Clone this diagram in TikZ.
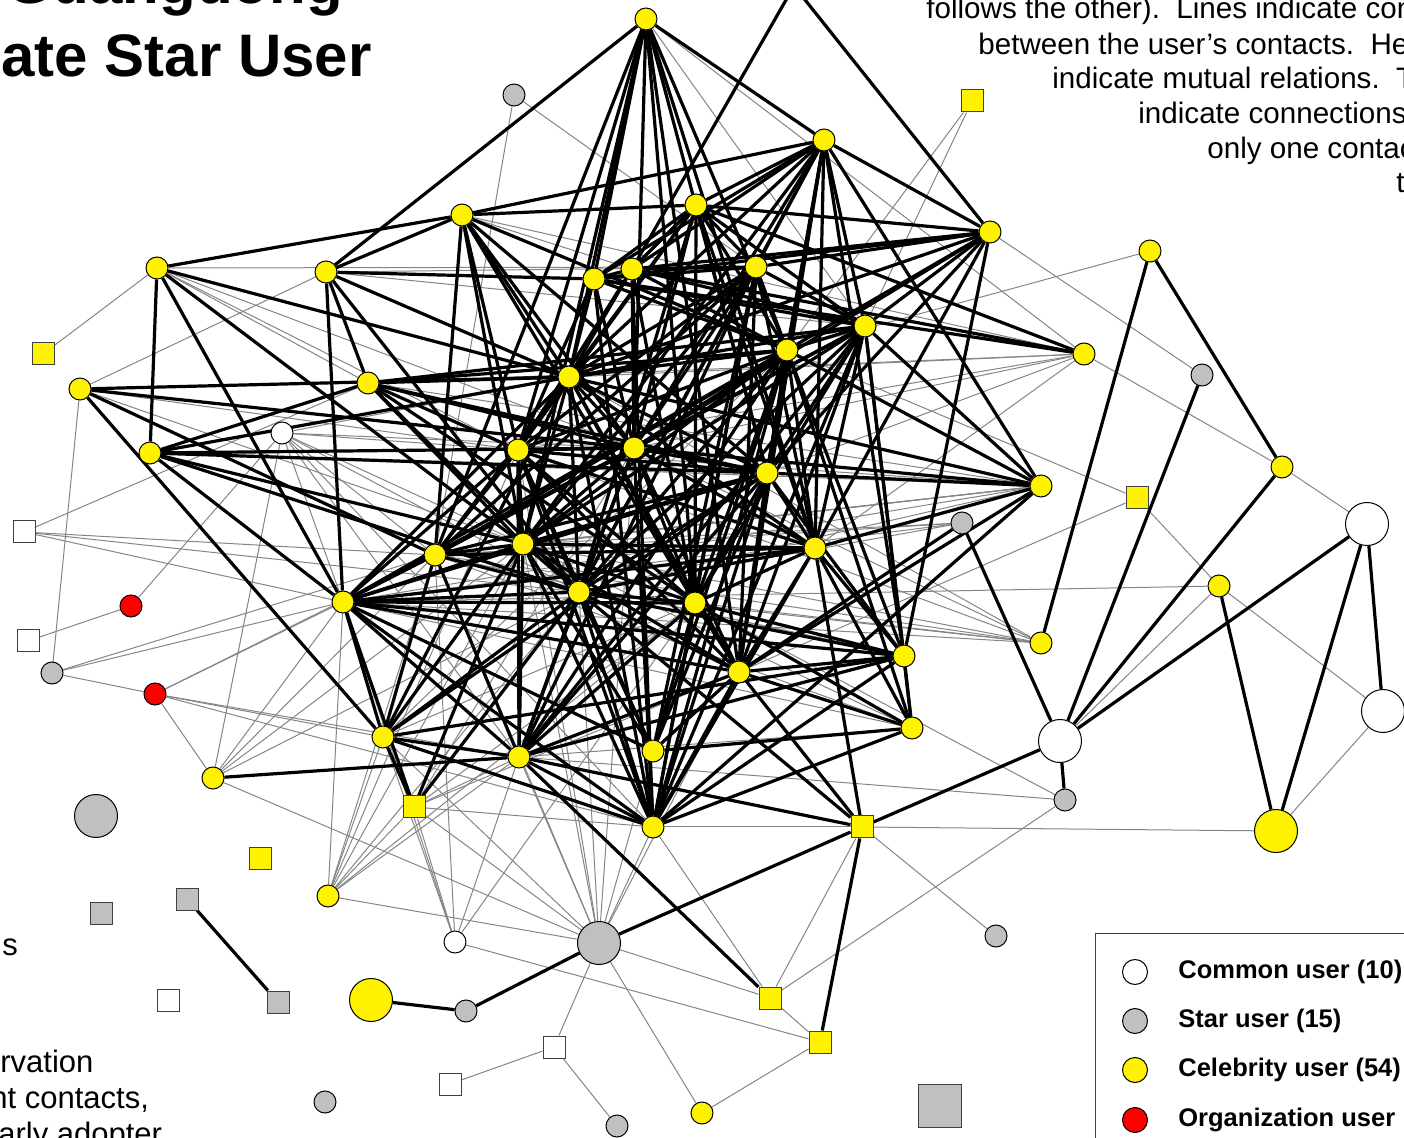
\documentclass[tikz,border=0pt]{standalone}
\usepackage{fontspec}
\setmainfont{Liberation Sans}
\usepackage{xcolor}
\usetikzlibrary{positioning}
\pgfdeclarelayer{edges}
\pgfsetlayers{edges,main}
\definecolor{stargray}{HTML}{C0C0C0}
\definecolor{linegray}{HTML}{858585}
\definecolor{rimgray}{HTML}{404040}

\begin{document}
\begin{tikzpicture}[x=0.5pt, y=-0.5pt,
  usernode/.style={circle, draw=black, line width=0.5pt, inner sep=0pt, minimum size=11pt},
  sqnode/.style={rectangle, draw=rimgray, line width=0.5pt, inner sep=0pt, minimum size=11pt},
  celebnode/.style={usernode, fill=yellow},
  starnode/.style={usernode, fill=stargray},
  commonnode/.style={usernode, fill=white},
  orgnode/.style={usernode, fill=red},
  celebsq/.style={sqnode, fill=yellow},
  starsq/.style={sqnode, fill=stargray},
  commonsq/.style={sqnode, fill=white},
  bignode/.style={minimum size=21.5pt},
  mutual/.style={line width=1.6pt, black},
  oneway/.style={line width=0.5pt, linegray},
  note/.style={font=\fontsize{14.8}{17}\selectfont, inner sep=0pt, anchor=base west},
  sidenote/.style={font=\fontsize{15.5}{18}\selectfont, inner sep=0pt, anchor=base west},
  keytext/.style={font=\bfseries\fontsize{12.75}{15}\selectfont, inner sep=0pt, anchor=west}]
  \useasboundingbox (0,0) rectangle (1404,1138);
  \clip (0,0) rectangle (1404,1138);

  % celebrity users
  \node[celebnode] (ctop) at (794,-14) {};
  \node[celebnode] (c1) at (646,19) {};
  \node[celebnode] (c2) at (824,140) {};
  \node[celebnode] (c3) at (462,215) {};
  \node[celebnode] (c4) at (696,205) {};
  \node[celebnode] (c5) at (990,232) {};
  \node[celebnode] (c6) at (157,268) {};
  \node[celebnode] (c7) at (326,272) {};
  \node[celebnode] (c8) at (594,279) {};
  \node[celebnode] (c9) at (632,269) {};
  \node[celebnode] (c10) at (756,267) {};
  \node[celebnode] (c11) at (865,326) {};
  \node[celebnode] (c12) at (787,350) {};
  \node[celebnode] (c13) at (1084,354) {};
  \node[celebnode] (c14) at (80,389) {};
  \node[celebnode] (c15) at (368,383) {};
  \node[celebnode] (c16) at (569,377) {};
  \node[celebnode] (c17) at (150,453) {};
  \node[celebnode] (c18) at (518,450) {};
  \node[celebnode] (c19) at (634,448) {};
  \node[celebnode] (c20) at (767,473) {};
  \node[celebnode] (c21) at (1041,486) {};
  \node[celebnode] (c22) at (435,555) {};
  \node[celebnode] (c23) at (523,544) {};
  \node[celebnode] (c24) at (815,548) {};
  \node[celebnode] (c25) at (343,602) {};
  \node[celebnode] (c26) at (579,592) {};
  \node[celebnode] (c27) at (695,603) {};
  \node[celebnode] (c28) at (739,672) {};
  \node[celebnode] (c29) at (904,656) {};
  \node[celebnode] (c30) at (1041,643) {};
  \node[celebnode] (c31) at (912,728) {};
  \node[celebnode] (c32) at (383,737) {};
  \node[celebnode] (c33) at (519,757) {};
  \node[celebnode] (c34) at (653,751) {};
  \node[celebnode] (c35) at (213,778) {};
  \node[celebnode] (c36) at (653,827) {};
  \node[celebnode] (c37) at (328,896) {};
  \node[celebnode] (c38) at (702,1113) {};
  \node[celebnode] (c39) at (1150,251) {};
  \node[celebnode] (c40) at (1282,467) {};
  \node[celebnode] (c41) at (1219,586) {};
  \node[celebnode, bignode] (C1) at (1276,831) {};
  \node[celebnode, bignode] (C2) at (371,1000) {};
  \node[celebsq] (q1) at (43,354) {};
  \node[celebsq] (q2) at (972,101) {};
  \node[celebsq] (q3) at (1137,498) {};
  \node[celebsq] (q4) at (414,807) {};
  \node[celebsq] (q5) at (260,859) {};
  \node[celebsq] (q6) at (862,827) {};
  \node[celebsq] (q7) at (770,998) {};
  \node[celebsq] (q8) at (820,1042) {};

  % star users
  \node[starnode] (s1) at (514,95) {};
  \node[starnode] (s2) at (1202,375) {};
  \node[starnode] (s3) at (962,523) {};
  \node[starnode] (s4) at (52,673) {};
  \node[starnode] (s5) at (1065,800) {};
  \node[starnode] (s6) at (996,936) {};
  \node[starnode] (s7) at (466,1011) {};
  \node[starnode] (s8) at (325,1102) {};
  \node[starnode] (s9) at (617,1126) {};
  \node[starnode, bignode] (S1) at (96,816) {};
  \node[starnode, bignode] (S2) at (599,943) {};
  \node[starsq] (g1) at (101,913) {};
  \node[starsq] (g2) at (187,899) {};
  \node[starsq] (g3) at (278,1002) {};
  \node[starsq, bignode] (G1) at (940,1106) {};

  % common and organization users
  \node[commonnode] (w1) at (282,433) {};
  \node[commonnode] (w2) at (455,942) {};
  \node[commonnode, bignode] (W1) at (1367,524) {};
  \node[commonnode, bignode] (W2) at (1383,711) {};
  \node[commonnode, bignode] (W3) at (1060,741) {};
  \node[commonsq] (u1) at (24,532) {};
  \node[commonsq] (u2) at (28,641) {};
  \node[commonsq] (u3) at (168,1000) {};
  \node[commonsq] (u4) at (554,1047) {};
  \node[commonsq] (u5) at (450,1084) {};
  \node[orgnode] (r1) at (131,606) {};
  \node[orgnode] (r2) at (155,694) {};

  \begin{pgfonlayer}{edges}
    \clip (0,0) rectangle (1404,1138);
    % one-way relations
    \foreach \a/\b in {q1/c6, c6/c15, c6/c18, c6/c19, c6/c10, c14/s4, c14/c7, c14/c18, c14/c23,
      u1/c15, u1/c22, u1/c26, u1/c25, u2/r1, r1/w1, s4/r2, s4/c25, s4/c22,
      r2/c25, r2/c22, r2/c32, r2/c33, r2/c36, r2/c35, c35/S2, c35/c25, c35/c22, c35/c23, c35/c26,
      w1/c35, w1/c25, w1/c22, w1/c23, w1/c26, w1/c18, w1/c19, w1/c16, w1/c33, w1/c36,
      c37/S2, c37/c32, c37/c25, c37/q4, c37/c22, c37/c23, c37/c26, c37/c18, c37/c27, c37/c33,
      w2/c32, w2/c25, w2/c22, w2/c33, w2/c27, w2/q4, w2/q8,
      S2/q4, S2/c33, S2/c23, S2/c18, S2/c26, S2/c19, S2/c27, S2/c36, S2/c28, S2/c32, S2/c22,
      S2/u4, S2/c38, S2/q7, u4/u5, u4/s9, c38/q8, q7/s5, q7/c36, q7/q8, q6/q7, q6/s6, q6/C1,
      c36/q6, s5/c27, s5/c33, W3/c41, c41/q3, c41/W2, c41/c25, C1/W2, c40/W1, c13/c40, c5/s2,
      c39/c12, q3/c12, q3/c28, q2/c11, q2/c12, s1/c22, s1/c10, c1/c11, c1/c13,
      c13/c16, c13/c19, c13/c18, c13/c20, c13/c24, c13/c15,
      c21/c22, c21/c23, c21/c25, c21/c26, c21/c18, c30/c22, c30/c25, c30/c26, c30/c27, c30/c18,
      c30/c23, c29/c22, c31/c25, c31/c23, c31/c33, c31/c22, c7/c10, c7/c11, c3/c13, c15/c21,
      c17/c21, c3/c9, c10/c22, c12/c32, c16/c30, c19/c30, c32/c27, c22/c29,
      s3/c22, s3/c25, s3/c23, s3/c26, c23/c21, q4/c27, q4/c36, q4/c19, q4/c33, q4/c28}
      \draw[oneway] (\a) -- (\b);
    % mutual relations
    \foreach \a/\b in {ctop/c9, ctop/c5,
      c1/c7, c1/c2, c1/c22, c1/c18, c1/c23, c1/c16, c1/c19, c1/c8, c1/c20, c1/c24, c1/c28, c1/c27, c1/c12,
      c2/c3, c2/c5, c2/c4, c2/c8, c2/c9, c2/c16, c2/c19, c2/c10, c2/c12, c2/c20, c2/c11, c2/c24,
      c2/c28, c2/c21, c2/c23, c2/c26, c2/c29,
      c3/c6, c3/c7, c3/c4, c3/c22, c3/c19, c3/c27, c3/c12, c3/c16, c3/c23, c3/c18, c3/c20,
      c4/c5, c4/c9, c4/c8, c4/c16, c4/c18, c4/c19, c4/c10, c4/c12, c4/c20, c4/c26, c4/c24, c4/c11,
      c4/c27, c4/c13,
      c5/c29, c5/c8, c5/c9, c5/c10, c5/c11, c5/c12, c5/c16, c5/c19, c5/c20, c5/c24,
      c6/c17, c6/c25, c6/c23, c6/c16, c7/c8, c7/c25, c7/c15, c7/c26, c7/c16,
      c14/c16, c14/c19, c14/c22, c14/c32,
      c17/c15, c17/c16, c17/c19, c17/c20, c17/c23, c17/c26, c17/c25,
      c15/c16, c15/c18, c15/c19, c15/c12, c15/c20, c15/c26, c15/c27, c15/c23, c15/c11,
      c16/c18, c16/c19, c16/c22, c16/c23, c16/c26, c16/c27, c16/c20, c16/c12, c16/c8, c16/c9,
      c16/c10, c16/c11, c16/c24, c16/c25, c16/c28, c16/c21,
      c18/c19, c18/c22, c18/c23, c18/c26, c18/c27, c18/c28, c18/c20, c18/c24, c18/c8, c18/c9,
      c18/c10, c18/c12, c18/c25, c18/c33, c18/c34,
      c19/c20, c19/c23, c19/c26, c19/c27, c19/c24, c19/c12, c19/c11, c19/c10, c19/c8, c19/c9,
      c19/c21, c19/c22, c19/c25, c19/c28, c19/c33, c19/c36,
      c20/c21, c20/c24, c20/c12, c20/c11, c20/c22, c20/c23, c20/c25, c20/c26, c20/c27, c20/c28,
      c20/c29, c20/c32, c20/c33,
      c22/c23, c22/c25, c22/c26, c22/c12, c22/c11, c22/c10, c22/c32, c22/c33, c22/c24,
      c23/c26, c23/c27, c23/c24, c23/c12, c23/c11, c23/c10, c23/c25, c23/c28, c23/c33, c23/c34, c23/c36,
      c24/c21, c24/c29, c24/c31, c24/c26, c24/c27, c24/c28, c24/c11, c24/c12, c24/c10, c24/c25,
      c24/c36, c24/q6,
      c25/c26, c25/c27, c25/c28, c25/c29, c25/c12, c25/c11, c25/c32, c25/c33, c25/c34, c25/c36, c25/q4,
      c26/c27, c26/c28, c26/c33, c26/c34, c26/c36, c26/q6, c26/c29, c26/c12, c26/c11, c26/c10,
      c27/c28, c27/c29, c27/c31, c27/c36, c27/c33, c27/c34, c27/c12, c27/c11, c27/c10, c27/c9,
      c28/c29, c28/c31, c28/c36, c28/c33, c28/c34, c28/q6, c28/c11, c28/c12, c28/c10, c28/s3, c28/c21,
      c29/c31, c29/c36, c29/c33, c29/c32, c29/c11, c29/c12, c31/c34, c31/c36, c31/c11, c31/c12,
      c32/q4, c32/c33, c32/c36, c32/c26, c32/c23, c32/c16,
      c33/c36, c33/q6, c33/q7, c33/c35, c33/c11, c33/c12, c33/c10, c34/c10, c34/c12, c34/c20,
      c36/c12, c36/c11, c36/c10, c36/c9, c36/c8, c36/c20, c36/c21, c36/c16, c36/c18, q4/c23, q4/c26,
      c8/c9, c8/c10, c8/c11, c8/c12, c8/c13, c9/c10, c9/c11, c9/c12, c9/c13, c10/c11, c10/c12,
      c11/c12, c11/c21, c12/c21,
      c39/c40, c39/c30, s2/W3, c40/W3, W1/W3, W1/C1, W1/W2, c41/C1, s3/W3, W3/s5, W3/q6,
      q6/S2, S2/s7, s7/C2, g2/g3, q6/q8}
      \draw[mutual] (\a) -- (\b);
  \end{pgfonlayer}

  % title and notes, cut by the page edge
  \node[anchor=base east, inner sep=0pt, font=\bfseries\fontsize{30}{36}\selectfont] (title1) at (343,4) {Guangdong};
  \node[anchor=base west, inner sep=0pt, font=\bfseries\fontsize{30}{36}\selectfont] (title2) at (1,77) {ate Star User};
  \node[note] (n1) at (926,19) {follows the other).\ \ Lines indicate con};
  \node[note] (n2) at (978,55) {between the user’s contacts.\ \ He};
  \node[note] (n3) at (1052,89) {indicate mutual relations.\ \ T};
  \node[note] (n4) at (1138,124) {indicate connections};
  \node[note] (n5) at (1207,159) {only one contac};
  \node[note] (n6) at (1396,193) {t};
  \node[sidenote] (m1) at (2,956) {s};
  \node[sidenote] (m2) at (0,1072) {rvation};
  \node[sidenote] (m3) at (-10,1108) {nt contacts,};
  \node[sidenote] (m4) at (-2,1144) {arly adopter};

  % legend
  \draw[rimgray, line width=0.5pt] (1095,933) rectangle (1440,1170);
  \node[commonnode, minimum size=12.5pt] (k1) at (1135,972) {};
  \node[starnode, minimum size=12.5pt] (k2) at (1135,1021) {};
  \node[celebnode, minimum size=12.5pt] (k3) at (1135,1070) {};
  \node[orgnode, minimum size=12.5pt] (k4) at (1135,1120) {};
  \node[keytext, right=15pt of k1] (t1) {Common user (10)};
  \node[keytext, right=15pt of k2] (t2) {Star user (15)};
  \node[keytext, right=15pt of k3] (t3) {Celebrity user (54)};
  \node[keytext, right=15pt of k4] (t4) {Organization user};
\end{tikzpicture}
\end{document}
